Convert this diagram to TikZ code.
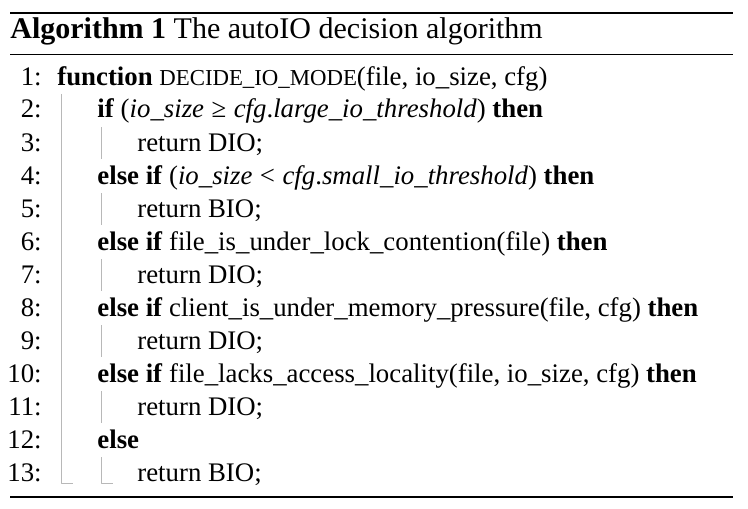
\documentclass[tikz,border=0pt]{standalone}
\usepackage{fontspec}
\setmainfont{Liberation Serif}
\newcommand{\fname}[1]{{\fontsize{11.4}{13}\selectfont #1}}
\newcommand{\mrel}[1]{\hspace{0.28em}#1\hspace{0.28em}}
\begin{document}
\begin{tikzpicture}[x=0.5pt,y=-0.5pt,join=round, % autoIO algorithm box
  lnum/.style={anchor=base east,inner sep=0pt,font=\fontsize{13.4}{16}\selectfont},
  code/.style={anchor=base west,inner sep=0pt,font=\fontsize{13.4}{16}\selectfont},
  guide/.style={draw=black!28,line width=0.5pt}]
\useasboundingbox (0,0) rectangle (748,508);
\draw[line width=0.9pt] (10,13)--(733,13);
\draw[line width=0.45pt] (10,54)--(733,54);
\draw[line width=0.9pt] (10,497)--(733,497);
\node[anchor=base west,inner sep=0pt,font=\fontsize{15}{18}\selectfont] (cap) at (10,39)
   {\textbf{Algorithm 1} The autoIO decision algorithm};
\foreach \k in {1,...,13}
   \node[lnum] (n\k) at (42,{85+33*(\k-1)}) {\k:};
\node[code] (l1) at (57,85) {\textbf{function} \fname{DECIDE\_IO\_MODE}(file, io\_size, cfg)};
\node[code] (l2) at (97,118) {\textbf{if} (\textit{io\_size}\mrel{≥}\textit{cfg}.\textit{large\_io\_threshold}) \textbf{then}};
\node[code] (l3) at (137,151) {return DIO;};
\node[code] (l4) at (97,184) {\textbf{else if} (\textit{io\_size}\mrel{<}\textit{cfg}.\textit{small\_io\_threshold}) \textbf{then}};
\node[code] (l5) at (137,217) {return BIO;};
\node[code] (l6) at (97,250) {\textbf{else if} file\_is\_under\_lock\_contention(file) \textbf{then}};
\node[code] (l7) at (137,283) {return DIO;};
\node[code] (l8) at (97,316) {\textbf{else if} client\_is\_under\_memory\_pressure(file, cfg) \textbf{then}};
\node[code] (l9) at (137,349) {return DIO;};
\node[code] (l10) at (97,382) {\textbf{else if} file\_lacks\_access\_locality(file, io\_size, cfg) \textbf{then}};
\node[code] (l11) at (137,415) {return DIO;};
\node[code] (l12) at (97,448) {\textbf{else}};
\node[code] (l13) at (137,481) {return BIO;};
% indent guides
\coordinate (g1) at ([xshift=-18pt,yshift=12pt]l2.base west);
\coordinate (g2) at ([xshift=-32pt,yshift=-1pt]l13.base west);
\draw[guide] (g1)--(g1|-g2)--(g2);
\foreach \k in {3,5,7,9,11}
   \draw[guide] ([xshift=-18pt,yshift=12pt]l\k.base west)--([xshift=-18pt,yshift=-4pt]l\k.base west);
\draw[guide] ([xshift=-18pt,yshift=12pt]l13.base west)--([xshift=-18pt,yshift=-1pt]l13.base west)--([xshift=-12pt,yshift=-1pt]l13.base west);
\end{tikzpicture}
\end{document}
